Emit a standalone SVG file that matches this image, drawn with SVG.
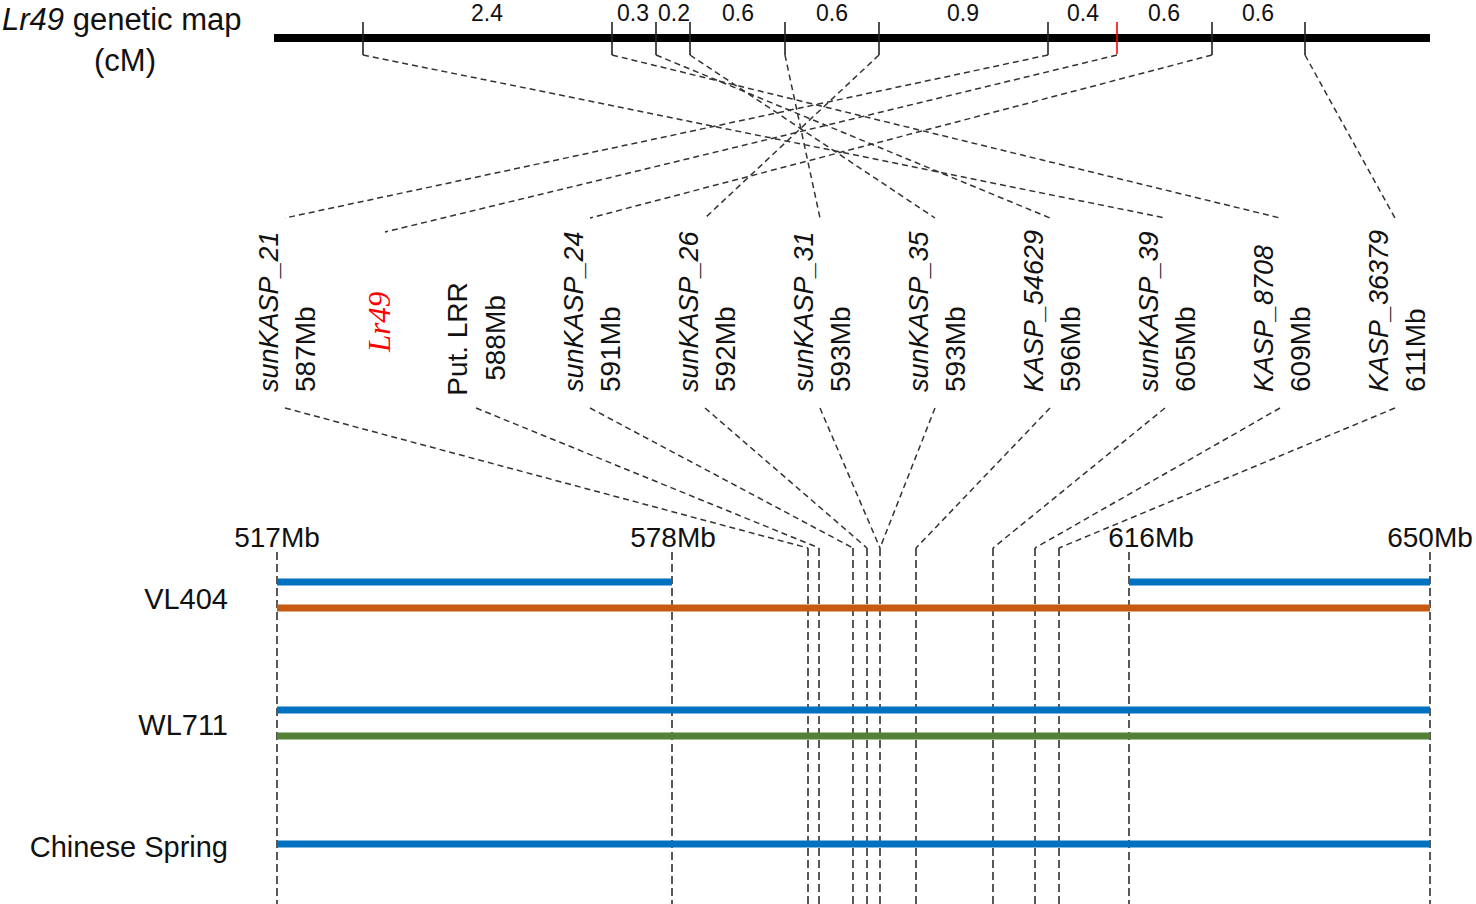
<svg xmlns="http://www.w3.org/2000/svg" width="1476" height="904" viewBox="0 0 1476 904">
<style>
text{font-family:"Liberation Sans",Arial,sans-serif;fill:#111}
.t{font-size:28px}
.it{font-size:27px;font-style:italic}
.n{font-size:23px;text-anchor:middle}
.row{font-size:29px;text-anchor:end}
.tick{stroke:#222;stroke-width:1.6}
.dl{stroke:#333;stroke-width:1.5;stroke-dasharray:6 4;fill:none}
.vl{stroke:#222;stroke-width:1.5;stroke-dasharray:8 4;fill:none}
.bar{stroke-width:7;fill:none}
</style>
<rect width="1476" height="904" fill="#fff"/>
<g id="title">
<text x="2" y="30" style="font-size:31px"><tspan font-style="italic">Lr49</tspan> genetic map</text>
<text x="125" y="71" style="font-size:31px" text-anchor="middle">(cM)</text>
</g>
<g id="genetic-map">
<line x1="274" y1="38" x2="1430" y2="38" stroke="#000" stroke-width="8"/>
<line class="tick" x1="363" y1="22" x2="363" y2="55"/>
<line class="tick" x1="612" y1="22" x2="612" y2="55"/>
<line class="tick" x1="656" y1="22" x2="656" y2="55"/>
<line class="tick" x1="690" y1="22" x2="690" y2="55"/>
<line class="tick" x1="785" y1="22" x2="785" y2="55"/>
<line class="tick" x1="879" y1="22" x2="879" y2="55"/>
<line class="tick" x1="1048" y1="22" x2="1048" y2="55"/>
<line x1="1117" y1="22" x2="1117" y2="54" stroke="#ff0000" stroke-width="1.6"/>
<line class="tick" x1="1212" y1="22" x2="1212" y2="55"/>
<line class="tick" x1="1305" y1="22" x2="1305" y2="55"/>
<text class="n" x="487" y="21">2.4</text>
<text class="n" x="633" y="21">0.3</text>
<text class="n" x="674" y="21">0.2</text>
<text class="n" x="738" y="21">0.6</text>
<text class="n" x="832" y="21">0.6</text>
<text class="n" x="963" y="21">0.9</text>
<text class="n" x="1083" y="21">0.4</text>
<text class="n" x="1164" y="21">0.6</text>
<text class="n" x="1258" y="21">0.6</text>
</g>
<g id="connectors">
<line class="dl" x1="1048" y1="55" x2="285" y2="218"/>
<line class="dl" x1="1117" y1="55" x2="385" y2="232"/>
<line class="dl" x1="1212" y1="55" x2="590" y2="218"/>
<line class="dl" x1="879" y1="55" x2="705" y2="218"/>
<line class="dl" x1="785" y1="55" x2="820" y2="218"/>
<line class="dl" x1="690" y1="55" x2="935" y2="218"/>
<line class="dl" x1="656" y1="55" x2="1050" y2="218"/>
<line class="dl" x1="363" y1="55" x2="1165" y2="218"/>
<line class="dl" x1="612" y1="55" x2="1280" y2="218"/>
<line class="dl" x1="1305" y1="55" x2="1395" y2="218"/>
<line class="dl" x1="285" y1="408" x2="808" y2="548"/>
<line class="dl" x1="476" y1="408" x2="819" y2="548"/>
<line class="dl" x1="590" y1="408" x2="853" y2="548"/>
<line class="dl" x1="705" y1="408" x2="867" y2="548"/>
<line class="dl" x1="820" y1="408" x2="880" y2="548"/>
<line class="dl" x1="935" y1="408" x2="880" y2="548"/>
<line class="dl" x1="1050" y1="408" x2="916" y2="548"/>
<line class="dl" x1="1165" y1="408" x2="993" y2="548"/>
<line class="dl" x1="1280" y1="408" x2="1035" y2="548"/>
<line class="dl" x1="1395" y1="408" x2="1059" y2="548"/>
<line class="vl" x1="277" y1="552" x2="277" y2="904"/>
<line class="vl" x1="672" y1="552" x2="672" y2="904"/>
<line class="vl" x1="808" y1="548" x2="808" y2="904"/>
<line class="vl" x1="819" y1="548" x2="819" y2="904"/>
<line class="vl" x1="853" y1="548" x2="853" y2="904"/>
<line class="vl" x1="867" y1="548" x2="867" y2="904"/>
<line class="vl" x1="880" y1="548" x2="880" y2="904"/>
<line class="vl" x1="916" y1="548" x2="916" y2="904"/>
<line class="vl" x1="993" y1="548" x2="993" y2="904"/>
<line class="vl" x1="1035" y1="548" x2="1035" y2="904"/>
<line class="vl" x1="1059" y1="548" x2="1059" y2="904"/>
<line class="vl" x1="1129" y1="552" x2="1129" y2="904"/>
<line class="vl" x1="1430" y1="552" x2="1430" y2="904"/>
</g>
<g id="m-sunKASP_21">
<text class="it" transform="translate(278,392) rotate(-90)">sunKASP_21</text>
<text class="t" transform="translate(315,392) rotate(-90)">587Mb</text>
</g>
<g id="m-Lr49">
<text transform="translate(390,352) rotate(-90)" style="font-family:'Liberation Serif','Times New Roman',serif;font-style:italic;font-size:31px;fill:#ff0000">Lr49</text>
</g>
<g id="m-PutLRR">
<text class="t" transform="translate(467,339) rotate(-90)" text-anchor="middle">Put. LRR</text>
<text class="t" transform="translate(505,338) rotate(-90)" text-anchor="middle">588Mb</text>
</g>
<g id="m-sunKASP_24">
<text class="it" transform="translate(583,392) rotate(-90)">sunKASP_24</text>
<text class="t" transform="translate(620,392) rotate(-90)">591Mb</text>
</g>
<g id="m-sunKASP_26">
<text class="it" transform="translate(698,392) rotate(-90)">sunKASP_26</text>
<text class="t" transform="translate(735,392) rotate(-90)">592Mb</text>
</g>
<g id="m-sunKASP_31">
<text class="it" transform="translate(813,392) rotate(-90)">sunKASP_31</text>
<text class="t" transform="translate(850,392) rotate(-90)">593Mb</text>
</g>
<g id="m-sunKASP_35">
<text class="it" transform="translate(928,392) rotate(-90)">sunKASP_35</text>
<text class="t" transform="translate(965,392) rotate(-90)">593Mb</text>
</g>
<g id="m-KASP_54629">
<text class="it" transform="translate(1043,392) rotate(-90)">KASP_54629</text>
<text class="t" transform="translate(1080,392) rotate(-90)">596Mb</text>
</g>
<g id="m-sunKASP_39">
<text class="it" transform="translate(1158,392) rotate(-90)">sunKASP_39</text>
<text class="t" transform="translate(1195,392) rotate(-90)">605Mb</text>
</g>
<g id="m-KASP_8708">
<text class="it" transform="translate(1273,392) rotate(-90)">KASP_8708</text>
<text class="t" transform="translate(1310,392) rotate(-90)">609Mb</text>
</g>
<g id="m-KASP_36379">
<text class="it" transform="translate(1388,392) rotate(-90)">KASP_36379</text>
<text class="t" transform="translate(1425,392) rotate(-90)">611Mb</text>
</g>
<g id="physical-axis">
<text class="t" x="277" y="547" text-anchor="middle">517Mb</text>
<text class="t" x="673" y="547" text-anchor="middle">578Mb</text>
<text class="t" x="1151" y="547" text-anchor="middle">616Mb</text>
<text class="t" x="1430" y="547" text-anchor="middle">650Mb</text>
</g>
<g id="VL404">
<text class="row" x="228" y="609">VL404</text>
<line class="bar" x1="277" y1="582" x2="672" y2="582" stroke="#0070c0"/>
<line class="bar" x1="1129" y1="582" x2="1430" y2="582" stroke="#0070c0"/>
<line class="bar" x1="277" y1="608" x2="1430" y2="608" stroke="#c55a11"/>
</g>
<g id="WL711">
<text class="row" x="228" y="735">WL711</text>
<line class="bar" x1="277" y1="710" x2="1430" y2="710" stroke="#0070c0"/>
<line class="bar" x1="277" y1="736" x2="1430" y2="736" stroke="#538135"/>
</g>
<g id="ChineseSpring">
<text class="row" x="228" y="857">Chinese Spring</text>
<line class="bar" x1="277" y1="844" x2="1430" y2="844" stroke="#0070c0"/>
</g>
</svg>
